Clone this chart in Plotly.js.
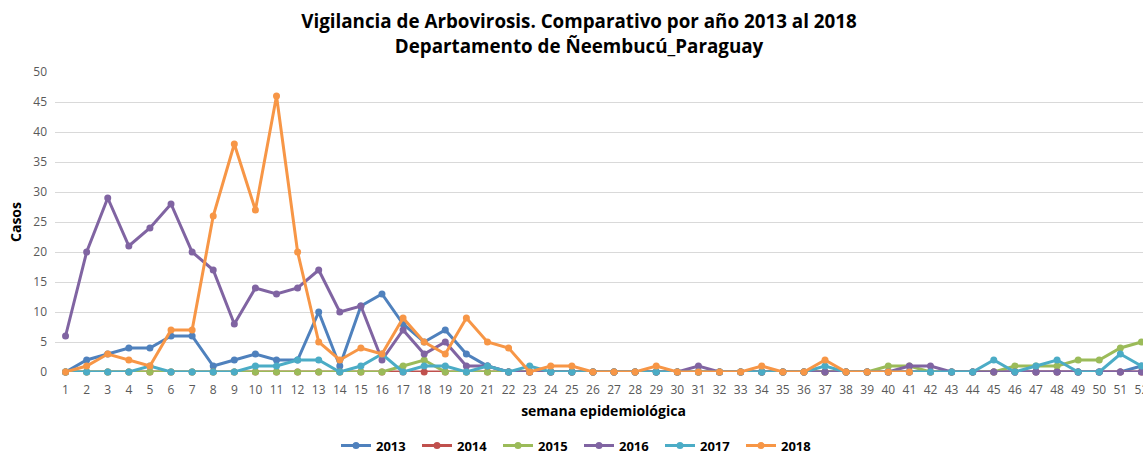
<!DOCTYPE html>
<html>
<head>
<meta charset="utf-8">
<script src="https://cdn.plot.ly/plotly-3.0.1.min.js"></script>
<style>
html, body { margin: 0; padding: 0; overflow: hidden; background: #fff; }
#wrap { width: 1143px; height: 454px; overflow: hidden; }
#chart { width: 1158px; height: 454px; }
</style>
</head>
<body>
<div id="wrap"><div id="chart"></div></div>
<script>
const weeks = [1,2,3,4,5,6,7,8,9,10,11,12,13,14,15,16,17,18,19,20,21,22,23,24,25,26,27,28,29,30,31,32,33,34,35,36,37,38,39,40,41,42,43,44,45,46,47,48,49,50,51,52];
const weeks2018 = [1,2,3,4,5,6,7,8,9,10,11,12,13,14,15,16,17,18,19,20,21,22,23,24,25,26,27,28,29,30,31,32,33,34,35,36,37,38,39,40,41];

const y2013 = [0,2,3,4,4,6,6,1,2,3,2,2,10,1,11,13,8,5,7,3,1,0,0,0,0,0,0,0,0,0,0,0,0,0,0,0,0,0,0,0,0,0,0,0,0,0,0,0,0,0,0,1];
const y2014 = [0,0,0,0,0,0,0,0,0,0,0,0,0,0,0,0,0,0,0,0,0,0,0,0,0,0,0,0,0,0,0,0,0,0,0,0,0,0,0,0,0,0,0,0,0,0,0,0,0,0,0,0];
const y2015 = [0,0,0,0,0,0,0,0,0,0,0,0,0,0,0,0,1,2,0,0,0,0,0,0,0,0,0,0,0,0,0,0,0,0,0,0,0,0,0,1,1,0,0,0,0,1,1,1,2,2,4,5];
const y2016 = [6,20,29,21,24,28,20,17,8,14,13,14,17,10,11,2,7,3,5,1,1,0,0,0,0,0,0,0,0,0,1,0,0,0,0,0,0,0,0,0,1,1,0,0,0,0,0,0,0,0,0,0];
const y2017 = [0,0,0,0,1,0,0,0,0,1,1,2,2,0,1,3,0,1,1,0,1,0,1,0,0,0,0,0,0,0,0,0,0,0,0,0,1,0,0,0,0,0,0,0,2,0,1,2,0,0,3,1];
const y2018 = [0,1,3,2,1,7,7,26,38,27,46,20,5,2,4,3,9,5,3,9,5,4,0,1,1,0,0,0,1,0,0,0,0,1,0,0,2,0,0,0,0];

const seriesNames = ['2013','2014','2015','2016','2017','2018'];
const seriesX = [weeks, weeks, weeks, weeks, weeks, weeks2018];
const seriesY = [y2013, y2014, y2015, y2016, y2017, y2018];
const colors = ['#4F81BD','#C0504D','#9BBB59','#8064A2','#4BACC6','#F79646'];

const traces = seriesNames.map((n, i) => ({
  type: 'scatter',
  mode: 'lines+markers',
  name: n,
  x: seriesX[i],
  y: seriesY[i],
  line: {color: colors[i], width: 3},
  marker: {color: colors[i], size: 7, symbol: 'circle'},
  cliponaxis: false
}));

const layout = {
  width: 1158,
  height: 454,
  margin: {l: 55, r: 6, t: 72, b: 82},
  paper_bgcolor: '#ffffff',
  plot_bgcolor: '#ffffff',
  font: {family: 'Open Sans, Noto Sans, sans-serif', color: '#595959', size: 12},
  title: {
    text: '<b>Vigilancia de Arbovirosis. Comparativo por año 2013 al 2018<br>Departamento de Ñeembucú_Paraguay</b>',
    font: {size: 18.8, color: '#000000', family: 'Open Sans, Noto Sans, sans-serif'},
    x: 0.5, xref: 'container', xanchor: 'center',
    y: 0.938, yref: 'container', yanchor: 'middle',
    automargin: false
  },
  xaxis: {
    range: [0.5, 52.5],
    tickmode: 'array',
    tickvals: weeks,
    ticktext: weeks.map(String),
    ticks: '',
    ticklabelstandoff: 9,
    showgrid: false,
    zeroline: false,
    showline: false,
    tickfont: {size: 12, color: '#595959'},
    title: {text: '<b>semana epidemiológica</b>', font: {size: 14, color: '#000000'}, standoff: 9}
  },
  yaxis: {
    range: [0, 50],
    dtick: 5,
    tick0: 0,
    ticks: '',
    ticklabelstandoff: 7,
    showgrid: true,
    gridcolor: '#D9D9D9',
    gridwidth: 1,
    zeroline: false,
    showline: false,
    tickfont: {size: 12, color: '#595959'},
    title: {text: '<b>Casos</b>', font: {size: 14, color: '#000000'}, standoff: 8}
  },
  showlegend: true,
  legend: {
    orientation: 'h',
    x: 0.5, xref: 'container', xanchor: 'center',
    y: 0.0185, yref: 'container', yanchor: 'middle',
    font: {size: 13, color: '#000000', family: 'Open Sans, Noto Sans, sans-serif', weight: 'bold'},
    entrywidth: 36,
    entrywidthmode: 'pixels',
    itemwidth: 30,
    traceorder: 'normal'
  }
};

Plotly.newPlot('chart', traces, layout, {displayModeBar: false, staticPlot: true});
</script>
</body>
</html>
